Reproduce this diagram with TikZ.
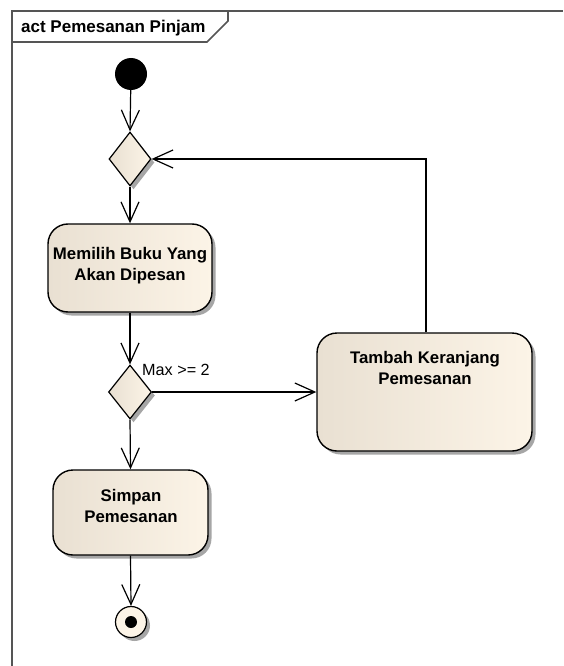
\documentclass[tikz,border=0pt]{standalone}
\usepackage{fontspec}
\setmainfont{Liberation Sans}
\usetikzlibrary{shapes.geometric,arrows.meta,shadows,positioning}
\definecolor{eaL}{RGB}{233,224,210}
\definecolor{eaR}{RGB}{252,244,231}
\definecolor{framec}{RGB}{85,85,85}
\begin{document}
\begin{tikzpicture}[x=1pt,y=-1pt,
  shadowed/.style={drop shadow={shadow xshift=3.5pt,shadow yshift=-3.5pt,fill=black!35,opacity=1}},
  action/.style={shadowed,draw=black,line width=1.4pt,rounded corners=20pt,left color=eaL,right color=eaR,inner sep=0pt},
  decision/.style={shadowed,draw=black,line width=1.2pt,diamond,inner sep=0pt,left color=eaL,right color=eaR},
  txt/.style={font=\bfseries\fontsize{16.8}{21}\selectfont,align=center,inner sep=0pt},
  flow/.style={line width=1.2pt,-{Straight Barb[length=20pt,width=18pt,line width=1.2pt]}},
  framel/.style={draw=framec,line width=1.6pt}
]
\useasboundingbox (0,0) rectangle (563,666);
% frame
\draw[framel] (12,666) -- (12,11) -- (563,11);
\draw[framel] (12,42) -- (207,42) -- (228,21) -- (228,11);
\node[anchor=base west,inner sep=0pt,font=\bfseries\fontsize{17}{20}\selectfont] (title) at (21,33) {act Pemesanan Pinjam};

% nodes
\node[circle,fill=black,minimum size=32pt,inner sep=0pt] (init) at (131,74) {};
\node[decision,minimum width=42pt,minimum height=54pt] (d1) at (130,159) {};
\node[action,minimum width=164pt,minimum height=88pt] (a1) at (130,268) {};
\node[txt] (a1t) at (130,266) {Memilih Buku Yang\\Akan Dipesan};
\node[decision,minimum width=43pt,minimum height=54pt] (d2) at (130,392) {};
\node[action,minimum width=215pt,minimum height=118pt] (a2) at (424.5,392) {};
\node[txt,anchor=north] (a2t) at (425,351) {Tambah Keranjang\\Pemesanan};
\node[action,minimum width=155pt,minimum height=85pt] (a3) at (130.5,512.5) {};
\node[txt,anchor=north] (a3t) at (131,489) {Simpan\\Pemesanan};
\node[shadowed,circle,draw=black,line width=1.2pt,fill=eaR,minimum size=31pt,inner sep=0pt] (fin) at (131,622) {};
\node[circle,fill=black,minimum size=12pt,inner sep=0pt] (findot) at (fin.center) {};
\node[anchor=base west,inner sep=0pt,font=\fontsize{16.2}{19}\selectfont] (lbl) at (142,375) {Max >= 2};

% connectors
\draw[flow] (init) -- (d1.north);
\draw[flow] (d1.south) -- (a1.north);
\draw[flow] (a1.south) -- (d2.north);
\draw[flow] (d2.east) -- (a2.west);
\draw[flow] (a2.north -| 426,0) |- (d1.east);
\draw[flow] (d2.south) -- (a3.north);
\draw[flow] (a3.south) -- (fin.north);
\end{tikzpicture}
\end{document}
